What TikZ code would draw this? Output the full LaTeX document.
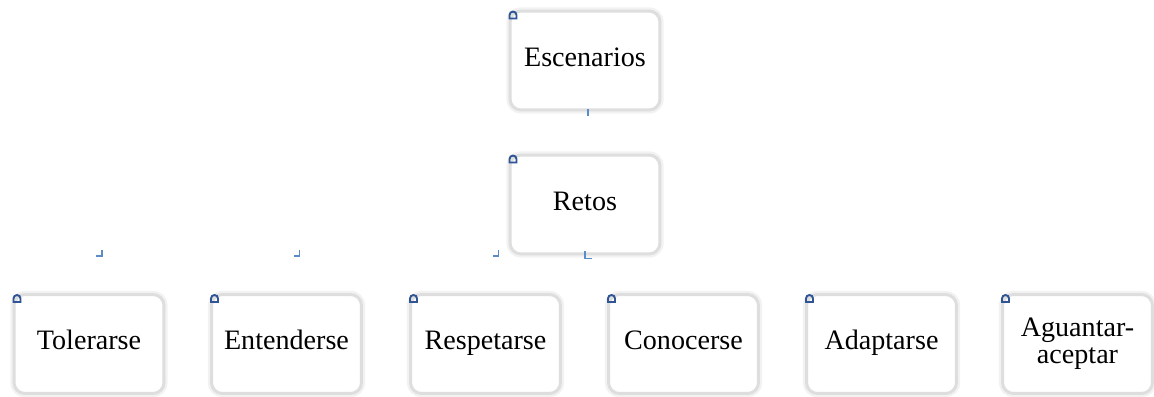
\documentclass[tikz,border=0pt]{standalone}
\usepackage{fontspec}
\setmainfont{Liberation Serif}
\definecolor{tagblue}{HTML}{2F5597}
\definecolor{elbowblue}{HTML}{5B8BC9}

\begin{document}
\begin{tikzpicture}[x=0.02cm, y=-0.02cm,
            box node/.style={draw=black!13, line width=0.06cm, rounded corners=0.22cm, fill=white,
                minimum width=3.0cm, minimum height=1.98cm, inner sep=2pt, align=center,
                font=\fontsize{16}{15.5}\selectfont,
                preaction={draw=black!5, line width=0.15cm}},
            line node/.style={box node, text height=11.2pt, text depth=4.4pt},
            corner tag/.style={draw=tagblue, line width=1.1pt},
            elbow/.style={draw=elbowblue, line width=0.9pt},
            ]
            \useasboundingbox (0,0) rectangle (1154,396);

            \node[line node] (1) at (585,60.5) {Escenarios};
            \node[line node] (2) at (585,204.5) {Retos};
            \node[line node] (3) at (89,344) {Tolerarse};
            \node[line node] (4) at (286.5,344) {Entenderse};
            \node[line node] (5) at (485.5,344) {Respetarse};
            \node[line node] (6) at (683.5,344) {Conocerse};
            \node[line node] (7) at (881.5,344) {Adaptarse};
            \node[box node] (8) at (1077.5,344) {Aguantar-\\aceptar};

            % small blue marks at the top left corners
            \foreach \n in {1,...,8}
                \draw[corner tag] ([shift={(1,9)}]\n.north west) [rounded corners=0.07cm] -- ++(0,-7) -- ++(7,0) [sharp corners] -- ++(0,7) -- cycle;

            % pieces of the connectors
            \draw[elbow] ([shift={(3,-2)}]1.south) -- ++(0,7);
            \draw[elbow] ([shift={(0,-4)}]2.south) -- ++(0,7) -- ++(7,0);
            \foreach \n in {3,4,5}
                \draw[elbow] ([shift={(13,-43)}]\n.north) -- ++(0,6) -- ++(-6,0);
        \end{tikzpicture}
\end{document}
